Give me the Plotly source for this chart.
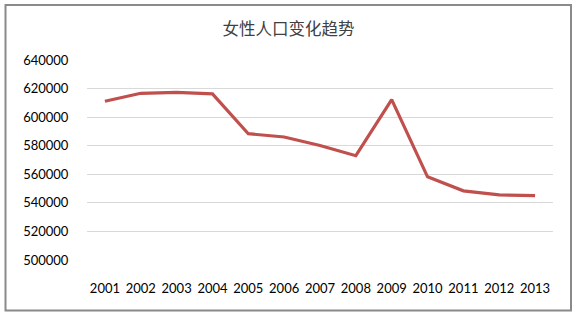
import plotly.graph_objects as go

years = ["2001", "2002", "2003", "2004", "2005", "2006", "2007",
         "2008", "2009", "2010", "2011", "2012", "2013"]
female_pop = [611100, 616700, 617400, 616300, 588400, 586100, 580200,
              573000, 612300, 558200, 548400, 545600, 545100]
y_ticks = [500000, 520000, 540000, 560000, 580000, 600000, 620000, 640000]
title_text = "女性人口变化趋势"

W, H = 575, 316
L, R, T, B = 87, 22, 60, 56
pw, ph = W - L - R, H - T - B

fig = go.Figure()
fig.add_trace(go.Scatter(
    x=years, y=female_pop, mode="lines",
    line=dict(color="#C0504D", width=3.2),
    hoverinfo="x+y", showlegend=False,
))

def px_x(p):
    return (p - L) / pw

def px_y(p):
    return (H - B - p) / ph

fig.add_shape(type="rect", xref="paper", yref="paper",
              x0=px_x(5.5), x1=px_x(571), y0=px_y(310.5), y1=px_y(5),
              line=dict(color="#8A8A8A", width=2), layer="below")

fig.update_layout(
    width=W, height=H,
    margin=dict(l=L, r=R, t=T, b=B, pad=0),
    paper_bgcolor="white", plot_bgcolor="white",
    title=dict(text=title_text, x=288.5 / W, xanchor="center", xref="container",
               y=1 - 29.5 / H, yanchor="middle", yref="container",
               font=dict(family="Noto Sans CJK SC", size=16.5, color="#404040")),
    font=dict(family="Lato, Open Sans, sans-serif", size=13, color="#000000"),
)
fig.update_xaxes(
    type="category", categoryorder="array", categoryarray=years,
    range=[-0.5, len(years) - 0.5],
    showgrid=False, showline=False, zeroline=False,
    ticks="outside", ticklen=16, tickcolor="rgba(0,0,0,0)",
    tickfont=dict(family="Lato, sans-serif", size=13, color="#000000"),
    fixedrange=True,
)
fig.update_yaxes(
    range=[500000, 640000], tickvals=y_ticks,
    ticktext=[str(v) for v in y_ticks],
    showgrid=True, gridcolor="#D9D9D9", gridwidth=1,
    showline=False, zeroline=False,
    ticks="outside", ticklen=15, tickcolor="rgba(0,0,0,0)",
    tickfont=dict(family="Lato, sans-serif", size=13, color="#000000"),
    fixedrange=True,
)

fig.write_html(
    "out.html",
    config={"displayModeBar": False},
    post_script="document.body.style.margin='0';document.body.style.overflow='hidden';",
)
